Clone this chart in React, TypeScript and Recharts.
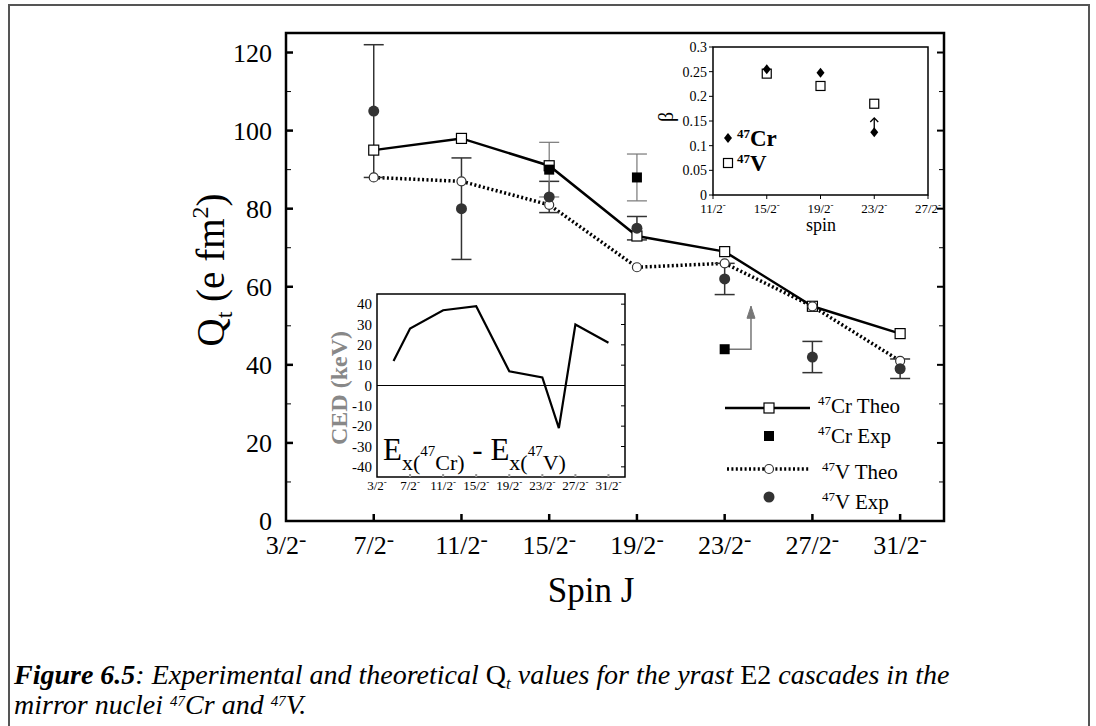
import React from "react";
import {
  ComposedChart,
  Line,
  Scatter,
  XAxis,
  YAxis,
  ErrorBar,
  ReferenceArea,
  ReferenceLine,
} from "recharts";

const SERIF = "'Liberation Serif', 'Times New Roman', Times, serif";

// spin J is kept as a number: 7/2- -> 3.5
const spinTicks = [1.5, 3.5, 5.5, 7.5, 9.5, 11.5, 13.5, 15.5];
const spinLabels = ["3/2", "7/2", "11/2", "15/2", "19/2", "23/2", "27/2", "31/2"];
const qtTicks = [0, 10, 20, 30, 40, 50, 60, 70, 80, 90, 100, 110, 120];

const theoSpins = [3.5, 5.5, 7.5, 9.5, 11.5, 13.5, 15.5];
const crTheo = [95, 98, 91, 73, 69, 55, 48];
const vTheo = [88, 87, 81, 65, 66, 55, 41];
const vExp = [105, 80, 83, 75, 62, 42, 39];
const vExpErr = [17, 13, 4, 3, 4, 4, 2.5];

const crExpSpins = [7.5, 9.5, 11.5];
const crExp = [90, 88, 44];
const crExpErr = [7, 6, 0];

// lower limit arrow for the 23/2- state of 47Cr
const crLimitX = [11.5, 12.1, 12.1];
const crLimitY = [44, 44, 55];

// beta inset
const betaTicks = [5.5, 7.5, 9.5, 11.5, 13.5];
const betaTickLabels = ["11/2", "15/2", "19/2", "23/2", "27/2"];
const betaYTicks = [0, 0.05, 0.1, 0.15, 0.2, 0.25, 0.3];
const betaSpins = [7.5, 9.5, 11.5];
const betaCr = [0.255, 0.248, 0.127];
const betaV = [0.246, 0.221, 0.185];
const betaArrowX = [11.5, 11.5];
const betaArrowY = [0.134, 0.156];

// CED inset
const cedSpins = [2.5, 3.5, 5.5, 7.5, 9.5, 11.5, 12.5, 13.5, 15.5];
const cedValues = [12, 28, 37, 39, 7, 4, -21, 30, 21];
const cedYTicks = [-40, -30, -20, -10, 0, 10, 20, 30, 40];

const zip = (xs: number[], ys: number[], es?: number[]) =>
  xs.map((x, i) => ({ x, y: ys[i], err: es ? es[i] : 0 }));

const crTheoData = zip(theoSpins, crTheo);
const vTheoData = zip(theoSpins, vTheo);
const vExpData = zip(theoSpins, vExp, vExpErr);
const crExpData = zip(crExpSpins, crExp, crExpErr);
const crLimitData = zip(crLimitX, crLimitY);
const betaCrData = zip(betaSpins, betaCr);
const betaVData = zip(betaSpins, betaV);
const betaArrowData = zip(betaArrowX, betaArrowY);
const cedData = zip(cedSpins, cedValues);

const SpinTick = (props: any) => {
  const { x, y, payload } = props;
  const i = spinTicks.indexOf(payload.value);
  return (
    <g>
      {i > 0 && <line x1={x} x2={x} y1={y} y2={y - 7} stroke="#000" strokeWidth={2.5} />}
      <text x={x} y={y + 33} textAnchor="middle" fontSize={26} fontFamily={SERIF} fill="#000">
        {spinLabels[i]}
        <tspan fontSize={22} dy={-8}>-</tspan>
      </text>
    </g>
  );
};

const QtTick = (props: any) => {
  const { x, y, payload } = props;
  const v = payload.value;
  const major = v % 20 === 0;
  return (
    <g>
      {v > 0 && (
        <line x1={x} x2={x + (major ? 7 : 5)} y1={y} y2={y} stroke="#000" strokeWidth={major ? 2.5 : 1} />
      )}
      {major && (
        <text x={x - 14} y={y + 9} textAnchor="end" fontSize={26} fontFamily={SERIF} fill="#000">
          {v}
        </text>
      )}
    </g>
  );
};

const QtRightTick = (props: any) => {
  const { x, y, payload } = props;
  const v = payload.value;
  if (v === 0) return <g />;
  const major = v % 20 === 0;
  return <line x1={x} x2={x - (major ? 7 : 5)} y1={y} y2={y} stroke="#000" strokeWidth={major ? 2 : 1} />;
};

const BetaXTick = (props: any) => {
  const { x, y, payload } = props;
  const i = betaTicks.indexOf(payload.value);
  return (
    <text x={x} y={y + 12} textAnchor="middle" fontSize={13} fontFamily={SERIF} fill="#000">
      {betaTickLabels[i]}
      <tspan fontSize={9} dy={-5}>-</tspan>
    </text>
  );
};

const CedXTick = (props: any) => {
  const { x, y, payload } = props;
  const i = spinTicks.indexOf(payload.value);
  return (
    <g>
      {i > 0 && <line x1={x} x2={x} y1={y} y2={y - 3} stroke="#999" strokeWidth={2} />}
      <text x={x} y={y + 13} textAnchor="middle" fontSize={13} fontFamily={SERIF} fill="#000">
        {spinLabels[i]}
        <tspan fontSize={9} dy={-5}>-</tspan>
      </text>
    </g>
  );
};

const CedRightTick = (props: any) => {
  const { x, y } = props;
  return <line x1={x} x2={x - 4} y1={y} y2={y} stroke="#000" strokeWidth={1} />;
};

const openSquare = (size: number, sw: number) => (p: any) => (
  <rect
    key={`os-${p.index}`}
    x={p.cx - size / 2}
    y={p.cy - size / 2}
    width={size}
    height={size}
    fill="#fff"
    stroke="#000"
    strokeWidth={sw}
  />
);

const openCircle = (p: any) => (
  <circle key={`oc-${p.index}`} cx={p.cx} cy={p.cy} r={4.5} fill="#fff" stroke="#333" strokeWidth={1.2} />
);

// arrow head drawn on the last point of a short line
const arrowHeadUp = (count: number, len: number, half: number, color: string, open: boolean) => (p: any) => {
  if (p.index !== count - 1) return <g key={`ah-${p.index}`} />;
  return open ? (
    <path
      key={`ah-${p.index}`}
      d={`M${p.cx - half},${p.cy + len} L${p.cx},${p.cy} L${p.cx + half},${p.cy + len}`}
      fill="none"
      stroke={color}
      strokeWidth={1.3}
    />
  ) : (
    <path
      key={`ah-${p.index}`}
      d={`M${p.cx - half},${p.cy + len} L${p.cx},${p.cy} L${p.cx + half},${p.cy + len} Z`}
      fill={color}
      stroke={color}
    />
  );
};

const MainChart = () => (
  <ComposedChart width={1096} height={726} margin={{ top: 33, right: 142, bottom: 175, left: 226 }}>
    <XAxis
      dataKey="x"
      type="number"
      domain={[1.5, 16.5]}
      ticks={spinTicks}
      interval={0}
      tick={SpinTick}
      tickLine={false}
      axisLine={false}
      tickSize={0}
      tickMargin={0}
      height={30}
      allowDataOverflow
    />
    <YAxis
      type="number"
      domain={[0, 125]}
      ticks={qtTicks}
      interval={0}
      tick={QtTick}
      tickLine={false}
      axisLine={false}
      tickSize={0}
      tickMargin={0}
      width={60}
      allowDataOverflow
    />
    <YAxis
      yAxisId="r"
      orientation="right"
      type="number"
      domain={[0, 125]}
      ticks={qtTicks}
      interval={0}
      tick={QtRightTick}
      tickLine={false}
      axisLine={false}
      tickSize={0}
      tickMargin={0}
      width={10}
      allowDataOverflow
    />
    <ReferenceArea x1={1.5} x2={16.5} y1={0} y2={125} fill="none" stroke="#000" strokeWidth={2.5} />
    <Line data={crTheoData} dataKey="y" stroke="#000" strokeWidth={2.5} dot={openSquare(10, 1.2)} isAnimationActive={false} />
    <Line
      data={vTheoData}
      dataKey="y"
      stroke="#000"
      strokeWidth={3.5}
      strokeDasharray="2 2.4"
      dot={openCircle}
      isAnimationActive={false}
    />
    <Line
      data={crLimitData}
      dataKey="y"
      stroke="#777"
      strokeWidth={1.5}
      dot={arrowHeadUp(crLimitData.length, 12, 4, "#777", false)}
      isAnimationActive={false}
    />
    <Scatter
      data={vExpData}
      dataKey="y"
      isAnimationActive={false}
      shape={(p: any) => <circle cx={p.cx} cy={p.cy} r={5.5} fill="#333" />}
    >
      <ErrorBar dataKey="err" direction="y" width={10} stroke="#333" strokeWidth={1.5} />
    </Scatter>
    <Scatter
      data={crExpData}
      dataKey="y"
      isAnimationActive={false}
      shape={(p: any) => <rect x={p.cx - 5} y={p.cy - 5} width={10} height={10} fill="#000" />}
    >
      <ErrorBar dataKey="err" direction="y" width={10} stroke="#777" strokeWidth={1.2} />
    </Scatter>
  </ComposedChart>
);

const BetaChart = () => (
  <ComposedChart width={310} height={210} margin={{ top: 17, right: 22, bottom: 20, left: 33 }}>
    <XAxis
      dataKey="x"
      type="number"
      domain={[5.5, 13.5]}
      ticks={betaTicks}
      interval={0}
      tick={BetaXTick}
      tickSize={4}
      tickMargin={2}
      tickLine={{ stroke: "#000" }}
      axisLine={false}
      height={25}
      allowDataOverflow
    />
    <YAxis
      type="number"
      domain={[0, 0.3]}
      ticks={betaYTicks}
      interval={0}
      tick={{ fontSize: 14, fontFamily: SERIF, fill: "#000" }}
      tickSize={4}
      tickMargin={2}
      tickLine={{ stroke: "#000" }}
      axisLine={false}
      width={40}
      allowDataOverflow
    />
    <ReferenceArea x1={5.5} x2={13.5} y1={0} y2={0.3} fill="none" stroke="#000" strokeWidth={1.5} />
    <Line
      data={betaArrowData}
      dataKey="y"
      stroke="#000"
      strokeWidth={1.3}
      dot={arrowHeadUp(betaArrowData.length, 4, 4, "#000", true)}
      isAnimationActive={false}
    />
    <Scatter
      data={betaVData}
      dataKey="y"
      isAnimationActive={false}
      shape={(p: any) => (
        <rect x={p.cx - 4.5} y={p.cy - 4.5} width={9} height={9} fill="#fff" stroke="#000" strokeWidth={1.2} />
      )}
    />
    <Scatter
      data={betaCrData}
      dataKey="y"
      isAnimationActive={false}
      shape={(p: any) => (
        <path d={`M${p.cx},${p.cy - 5} L${p.cx + 4},${p.cy} L${p.cx},${p.cy + 5} L${p.cx - 4},${p.cy} Z`} fill="#000" />
      )}
    />
  </ComposedChart>
);

const CedChart = () => (
  <ComposedChart width={340} height={220} margin={{ top: 14, right: 5, bottom: 5, left: 47 }}>
    <XAxis
      dataKey="x"
      type="number"
      domain={[1.5, 16.5]}
      ticks={spinTicks}
      interval={0}
      tick={CedXTick}
      tickLine={false}
      axisLine={false}
      tickSize={0}
      tickMargin={0}
      height={18}
      allowDataOverflow
    />
    <YAxis
      type="number"
      domain={[-45, 45]}
      ticks={cedYTicks}
      interval={0}
      tick={{ fontSize: 15, fontFamily: SERIF, fill: "#000" }}
      tickLine={false}
      axisLine={false}
      tickSize={0}
      tickMargin={5}
      width={30}
      allowDataOverflow
    />
    <YAxis
      yAxisId="r"
      orientation="right"
      type="number"
      domain={[-45, 45]}
      ticks={cedYTicks}
      interval={0}
      tick={CedRightTick}
      tickLine={false}
      axisLine={false}
      tickSize={0}
      tickMargin={0}
      width={10}
      allowDataOverflow
    />
    <ReferenceArea x1={1.5} x2={16.5} y1={-45} y2={45} fill="none" stroke="#000" strokeWidth={1.5} />
    <ReferenceLine y={0} stroke="#000" strokeWidth={1.2} />
    <Line data={cedData} dataKey="y" stroke="#000" strokeWidth={2.2} dot={false} isAnimationActive={false} />
  </ComposedChart>
);

const Sup = ({ children, size, rise }: { children: React.ReactNode; size: number; rise?: number }) => (
  <tspan fontSize={size} dy={-(rise ?? size * 0.62)}>
    {children}
  </tspan>
);

const Annotations = () => (
  <svg
    width={1096}
    height={726}
    style={{ position: "absolute", left: 0, top: 0, pointerEvents: "none" }}
    fontFamily={SERIF}
  >
    {/* page frame */}
    <path d="M9,740 L9,5 L1089,5 L1089,740" fill="none" stroke="#555" strokeWidth={2} />

    {/* main axis titles */}
    <text x={224} y={270} transform="rotate(-90 224 270)" textAnchor="middle" fontSize={39} fill="#000">
      Q<tspan fontSize={24} dy={8}>t</tspan>
      <tspan dy={-8}> (e fm</tspan>
      <tspan fontSize={24} dy={-16}>2</tspan>
      <tspan dy={16}>)</tspan>
    </text>
    <text x={591} y={602} textAnchor="middle" fontSize={35} fill="#000">
      Spin J
    </text>

    {/* main legend */}
    <line x1={725} x2={810} y1={408} y2={408} stroke="#000" strokeWidth={2.5} />
    <rect x={764} y={403} width={10} height={10} fill="#fff" stroke="#000" strokeWidth={1.2} />
    <text x={818} y={413} fontSize={21} fill="#000">
      <Sup size={13}>47</Sup>
      <tspan dy={8}>Cr Theo</tspan>
    </text>
    <rect x={764} y={431} width={10} height={10} fill="#000" />
    <text x={818} y={443} fontSize={21} fill="#000">
      <Sup size={13}>47</Sup>
      <tspan dy={8}>Cr Exp</tspan>
    </text>
    <line x1={727} x2={810} y1={469} y2={469} stroke="#000" strokeWidth={3.5} strokeDasharray="2 2.4" />
    <circle cx={769} cy={469} r={4.5} fill="#fff" stroke="#333" strokeWidth={1.2} />
    <text x={822} y={479} fontSize={21} fill="#000">
      <Sup size={13}>47</Sup>
      <tspan dy={8}>V Theo</tspan>
    </text>
    <circle cx={769} cy={497} r={5.5} fill="#333" />
    <text x={822} y={509} fontSize={21} fill="#000">
      <Sup size={13}>47</Sup>
      <tspan dy={8}>V Exp</tspan>
    </text>

    {/* beta inset labels */}
    <text x={673} y={117} transform="rotate(-90 673 117)" textAnchor="middle" fontSize={20} fill="#000">
      β
    </text>
    <text x={821} y={231} textAnchor="middle" fontSize={18} fill="#000">
      spin
    </text>
    <path d="M728,133 L732,138 L728,143 L724,138 Z" fill="#000" />
    <text x={737} y={146} fontSize={23} fontWeight="bold" fill="#000">
      <Sup size={13}>47</Sup>
      <tspan dy={8}>Cr</tspan>
    </text>
    <rect x={723.5} y={158.5} width={9} height={9} fill="#fff" stroke="#000" strokeWidth={1.2} />
    <text x={737} y={171} fontSize={23} fontWeight="bold" fill="#000">
      <Sup size={13}>47</Sup>
      <tspan dy={8}>V</tspan>
    </text>

    {/* CED inset labels */}
    <text x={347} y={388} transform="rotate(-90 347 388)" textAnchor="middle" fontSize={24} fontWeight="bold" fill="#888">
      CED (keV)
    </text>
    <text x={383} y={460} fontSize={31} fill="#000">
      E<tspan fontSize={22} dy={10}>x(</tspan>
      <tspan fontSize={15} dy={-14}>47</tspan>
      <tspan fontSize={22} dy={14}>Cr)</tspan>
      <tspan dy={-10}> - E</tspan>
      <tspan fontSize={22} dy={10}>x(</tspan>
      <tspan fontSize={15} dy={-14}>47</tspan>
      <tspan fontSize={22} dy={14}>V)</tspan>
    </text>

    {/* caption */}
    <text x={14} y={684} fontSize={28} fontStyle="italic" fill="#000">
      <tspan fontWeight="bold">Figure 6.5</tspan>: Experimental and theoretical{" "}
      <tspan fontStyle="normal">Q</tspan>
      <tspan fontSize={17} dy={5}>t</tspan>
      <tspan dy={-5}> values for the yrast </tspan>
      <tspan fontStyle="normal">E2</tspan> cascades in the
    </text>
    <text x={14} y={714} fontSize={28} fontStyle="italic" fill="#000">
      mirror nuclei <Sup size={15} rise={8}>47</Sup>
      <tspan dy={8}>Cr and </tspan>
      <Sup size={15} rise={8}>47</Sup>
      <tspan dy={8}>V.</tspan>
    </text>
  </svg>
);

export default function App() {
  return (
    <div
      style={{
        position: "absolute",
        left: 0,
        top: 0,
        width: 1096,
        height: 726,
        overflow: "hidden",
        background: "#fff",
        fontFamily: SERIF,
      }}
    >
      <div style={{ position: "absolute", left: 0, top: 0 }}>
        <MainChart />
      </div>
      <div style={{ position: "absolute", left: 640, top: 30 }}>
        <BetaChart />
      </div>
      <div style={{ position: "absolute", left: 300, top: 280 }}>
        <CedChart />
      </div>
      <Annotations />
    </div>
  );
}
